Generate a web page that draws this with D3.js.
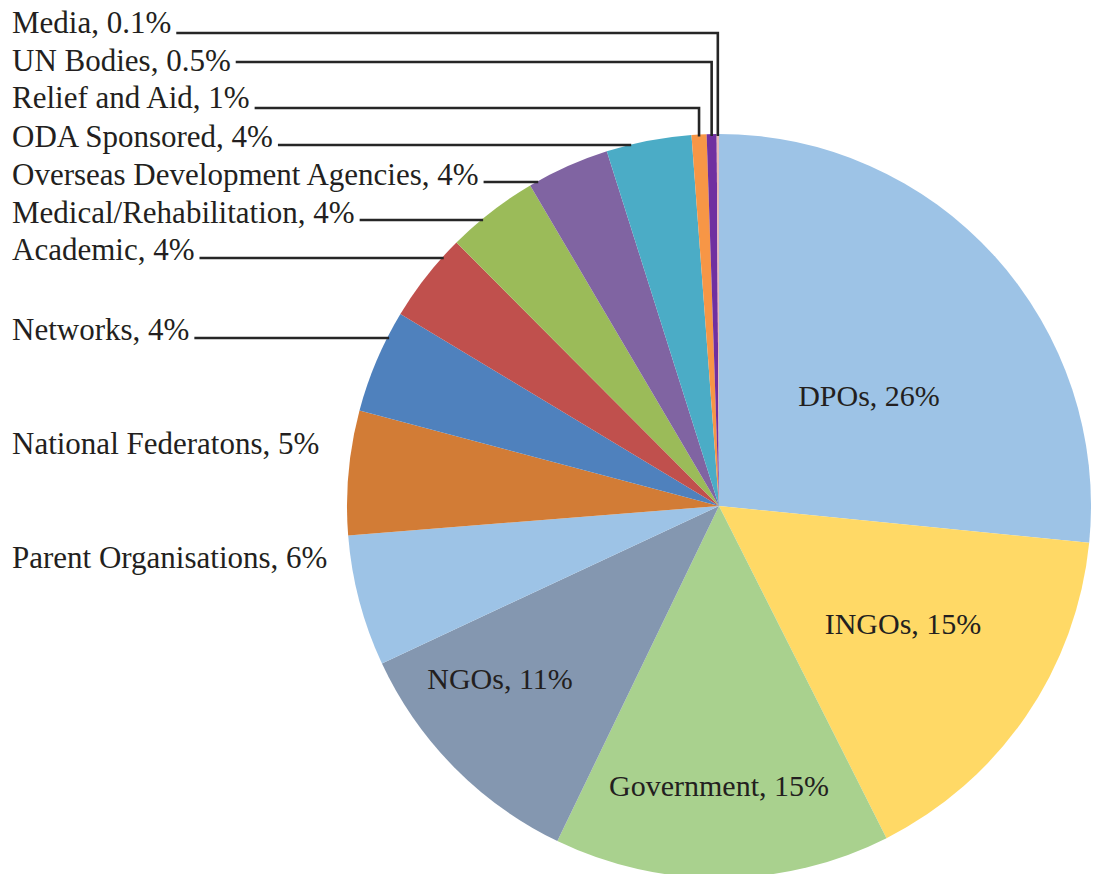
<!DOCTYPE html>
<html lang="en">
<head>
<meta charset="utf-8">
<title>Stakeholder groups pie</title>
<script src="https://d3js.org/d3.v7.min.js"></script>
<style>
    body { margin: 0; background: #fff; }
    text { font-family: "Liberation Serif", "DejaVu Serif", serif; fill: #231f20; }
</style>
</head>
<body>
<div id="chart"></div>
<script type="text/javascript">
// categories, clockwise from 12 o'clock
var categories = ['DPOs', 'INGOs', 'Government', 'NGOs', 'Parent Organisations',
    'National Federatons', 'Networks', 'Academic', 'Medical/Rehabilitation',
    'Overseas Development Agencies', 'ODA Sponsored', 'Relief and Aid', 'UN Bodies', 'Media'];
// slice shares (percent)
var shares = [26.6, 16.0, 14.6, 10.9, 5.7, 5.4, 4.5, 3.9, 4.0, 3.6, 3.7, 0.65, 0.43, 0.1];
// percentages as printed on the labels
var pctLabels = ['26%', '15%', '15%', '11%', '6%', '5%', '4%', '4%', '4%', '4%', '4%', '1%', '0.5%', '0.1%'];
var colors = ['#9dc3e6', '#ffd966', '#a9d18e', '#8497b0', '#9dc3e6', '#d27c36', '#4f81bd',
    '#c0504d', '#9bbb59', '#8064a2', '#4bacc6', '#f79646', '#7030a0', '#e6b9b8'];

var width = 1102, height = 874;
var cx = 719, cy = 506, radius = 372;

// label layout: inside labels (centre) and outside labels (baseline, leader y)
var insideLabels = {
    'DPOs': [869, 395], 'INGOs': [903, 623], 'Government': [719, 785], 'NGOs': [500, 678]
};
var outsideLabels = {
    'Media': [33, 33], 'UN Bodies': [71, 62], 'Relief and Aid': [108, 108],
    'ODA Sponsored': [147, 145], 'Overseas Development Agencies': [185, 182],
    'Medical/Rehabilitation': [223, 220], 'Academic': [260, 258], 'Networks': [340, 338],
    'National Federatons': [454, null], 'Parent Organisations': [568, null]
};
var verticalLeaders = ['Relief and Aid', 'UN Bodies', 'Media'];

var data = categories.map(function (c, i) {
    return { name: c, value: shares[i], pct: pctLabels[i], color: colors[i] };
});

var svg = d3.select('#chart').append('svg')
    .attr('width', width)
    .attr('height', height);

var pie = d3.pie()
    .sort(null)
    .value(function (d) { return d.value; });

var arc = d3.arc().innerRadius(0).outerRadius(radius);

var arcs = pie(data);

var g = svg.append('g').attr('transform', 'translate(' + cx + ',' + cy + ')');

g.selectAll('path')
    .data(arcs)
    .enter()
    .append('path')
    .attr('d', arc)
    .attr('fill', function (d) { return d.data.color; });

// labels inside the big slices
svg.selectAll('.inlabel')
    .data(arcs.filter(function (d) { return insideLabels[d.data.name]; }))
    .enter()
    .append('text')
    .attr('class', 'inlabel')
    .attr('x', function (d) { return insideLabels[d.data.name][0]; })
    .attr('y', function (d) { return insideLabels[d.data.name][1]; })
    .attr('dy', '0.35em')
    .attr('text-anchor', 'middle')
    .attr('font-size', '30px')
    .text(function (d) { return d.data.name + ', ' + d.data.pct; });

// labels on the left with leader lines
var outer = arcs.filter(function (d) { return outsideLabels[d.data.name]; });

var labels = svg.selectAll('.outlabel')
    .data(outer)
    .enter()
    .append('text')
    .attr('class', 'outlabel')
    .attr('x', 12)
    .attr('y', function (d) { return outsideLabels[d.data.name][0]; })
    .attr('font-size', '31px')
    .text(function (d) { return d.data.name + ', ' + d.data.pct; });

labels.each(function (d) {
    var ly = outsideLabels[d.data.name][1];
    if (ly === null) return;
    var x0 = 12 + this.getComputedTextLength() + 5;
    var pts;
    if (verticalLeaders.indexOf(d.data.name) >= 0) {
        var mid = (d.startAngle + d.endAngle) / 2;
        var px = cx + radius * Math.sin(mid);
        var py = cy - radius * Math.cos(mid);
        pts = [[x0, ly], [px, ly], [px, py + 2]];
    } else {
        var dy = ly - cy;
        var ex = cx - Math.sqrt(radius * radius - dy * dy);
        pts = [[x0, ly], [ex + 2, ly]];
    }
    svg.append('path')
        .attr('d', d3.line()(pts))
        .attr('fill', 'none')
        .attr('stroke', '#262626')
        .attr('stroke-width', 2.6);
});
</script>
</body>
</html>
